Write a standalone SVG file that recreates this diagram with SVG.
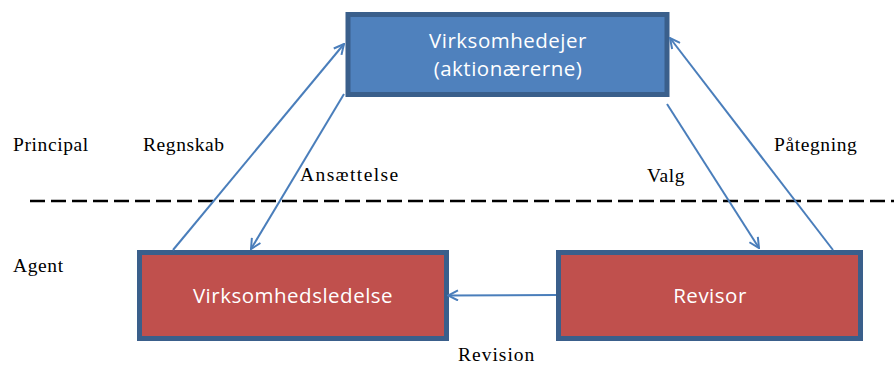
<svg xmlns="http://www.w3.org/2000/svg" width="896" height="365" viewBox="0 0 896 365">
<style>
.box-blue{fill:#4F81BD;stroke:#3A5F8B;stroke-width:5}
.box-red{fill:#C0504D;stroke:#3A5F8B;stroke-width:5}
.nt{font-family:"Open Sans","Liberation Sans",sans-serif;font-size:20.5px;letter-spacing:0.5px;fill:#FFFFFF;text-anchor:middle}
.lbl{font-family:"Liberation Serif","Times New Roman",serif;font-size:19.5px;letter-spacing:0.6px;fill:#000000}
.conn{stroke:#4A7EBB;stroke-width:2;fill:none;marker-end:url(#ah)}
</style>
<defs>
<marker id="ah" viewBox="0 0 12 12" refX="11" refY="6" markerWidth="12" markerHeight="12" markerUnits="userSpaceOnUse" orient="auto">
<path d="M1,1 L11,6 L1,11" fill="none" stroke="#4A7EBB" stroke-width="2"/>
</marker>
</defs>
<rect width="896" height="365" fill="#FFFFFF"/>
<line x1="30" y1="201" x2="894" y2="201" stroke="#000000" stroke-width="2.5" stroke-dasharray="15,6"/>
<g id="labels">
<text class="lbl" x="13" y="151">Principal</text>
<text class="lbl" x="13" y="272">Agent</text>
<text class="lbl" x="143" y="151">Regnskab</text>
<text class="lbl" x="300" y="181" style="letter-spacing:1.4px">Ansættelse</text>
<text class="lbl" x="647" y="182">Valg</text>
<text class="lbl" x="774" y="151">Påtegning</text>
<text class="lbl" x="458" y="361" style="letter-spacing:1px">Revision</text>
</g>
<g id="node-virksomhedejer">
<rect class="box-blue" x="348" y="14.5" width="319" height="80"/>
<text class="nt" x="508" y="48">Virksomhedejer</text>
<text class="nt" x="508" y="76">(aktionærerne)</text>
</g>
<g id="node-virksomhedsledelse">
<rect class="box-red" x="139.5" y="252.5" width="307" height="86"/>
<text class="nt" x="293" y="303">Virksomhedsledelse</text>
</g>
<g id="node-revisor">
<rect class="box-red" x="558.5" y="252.5" width="302" height="86"/>
<text class="nt" x="710" y="303">Revisor</text>
</g>
<g id="connectors">
<line class="conn" x1="173" y1="250" x2="344" y2="44"/>
<line class="conn" x1="344" y1="94" x2="251" y2="249"/>
<line class="conn" x1="667" y1="104" x2="759" y2="248"/>
<line class="conn" x1="833" y1="250" x2="670" y2="38"/>
<line class="conn" x1="556" y1="295" x2="448" y2="295.5"/>
</g>
</svg>
